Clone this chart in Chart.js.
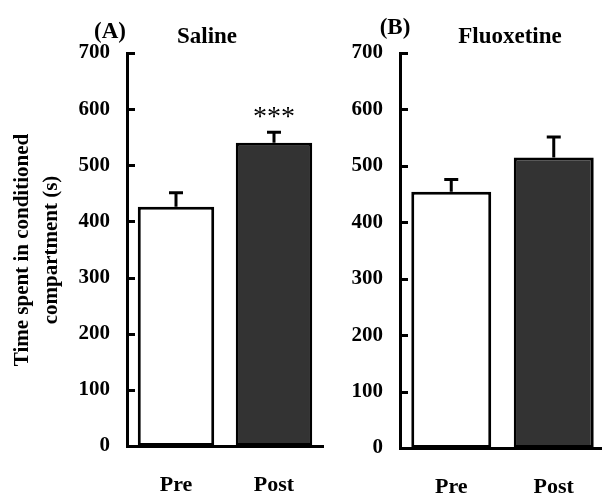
<!DOCTYPE html>
<html>
<head>
<meta charset="utf-8">
<script src="https://cdn.jsdelivr.net/npm/chart.js@4"></script>
<style>
    html, body { margin: 0; padding: 0; background: #fff; overflow: hidden; }
    #wrap { position: relative; width: 602px; height: 493px; overflow: hidden; }
    canvas { position: absolute; top: 0; }
    #chartA { left: 0; }
    #chartB { left: 330px; }
</style>
</head>
<body>
<div id="wrap">
    <canvas id="chartA" width="330" height="493"></canvas>
    <canvas id="chartB" width="290" height="493"></canvas>
</div>
<script>
// data
const categories = ['Pre', 'Post'];
const salineMeans = [426, 540];
const salineSEM = [25, 19];
const fluoxetineMeans = [454, 515];
const fluoxetineSEM = [22, 36];
const yTickValues = [0, 100, 200, 300, 400, 500, 600, 700];
const barColors = ['#ffffff', '#333333'];
const yAxisTitle = ['Time spent in conditioned', 'compartment (s)'];

const FONT = "'Liberation Serif', 'Times New Roman', serif";

function makePanel(canvasId, means, sem, panel) {
    const ctx = document.getElementById(canvasId).getContext('2d');

    // error bars, inward ticks, titles and stars
    const decor = {
        id: 'decor',
        afterDraw(chart) {
            const c = chart.ctx;
            const xs = chart.scales.x;
            const ys = chart.scales.y;
            const area = chart.chartArea;
            c.save();
            c.strokeStyle = '#000';
            c.fillStyle = '#000';
            c.lineWidth = 3;

            // inward tick marks
            yTickValues.forEach(v => {
                if (v === 0) return;
                const y = Math.round(ys.getPixelForValue(v)) + 0.5;
                c.beginPath();
                c.moveTo(area.left, y);
                c.lineTo(area.left + 8, y);
                c.stroke();
            });

            // upper error bars
            means.forEach((m, i) => {
                const x = xs.getPixelForValue(i);
                const yTop = ys.getPixelForValue(m);
                const yErr = ys.getPixelForValue(m + sem[i]);
                c.beginPath();
                c.moveTo(x, yTop);
                c.lineTo(x, yErr);
                c.moveTo(x - 7, yErr);
                c.lineTo(x + 7, yErr);
                c.stroke();
            });

            // significance stars
            if (panel.stars) {
                const i = panel.stars.index;
                const x = xs.getPixelForValue(i);
                const y = ys.getPixelForValue(means[i] + sem[i]);
                c.font = '28px ' + FONT;
                c.textAlign = 'center';
                c.textBaseline = 'alphabetic';
                c.fillText(panel.stars.text, x, y - 7);
            }

            // panel letter and title
            c.font = 'bold 23px ' + FONT;
            c.textAlign = 'center';
            c.textBaseline = 'middle';
            c.fillText(panel.letter.text, panel.letter.x, panel.letter.y);
            c.fillText(panel.title.text, panel.title.x, panel.title.y);

            // y axis title
            if (panel.yTitle) {
                c.font = 'bold 21px ' + FONT;
                panel.yTitle.x.forEach((lx, k) => {
                    c.save();
                    c.translate(lx, panel.yTitle.y);
                    c.rotate(-Math.PI / 2);
                    c.fillText(yAxisTitle[k], 0, 0);
                    c.restore();
                });
            }
            c.restore();
        }
    };

    return new Chart(ctx, {
        type: 'bar',
        data: {
            labels: categories,
            datasets: [{
                data: means,
                backgroundColor: barColors,
                borderColor: '#000',
                borderWidth: 3,
                borderSkipped: false,
                barPercentage: 0.78,
                categoryPercentage: 1.0
            }]
        },
        options: {
            responsive: false,
            animation: false,
            layout: { padding: { top: panel.top, right: panel.right, left: 0, bottom: 0 } },
            plugins: {
                legend: { display: false },
                tooltip: { enabled: false }
            },
            scales: {
                x: {
                    grid: { display: false, drawTicks: false },
                    border: { display: true, color: '#000', width: 3 },
                    ticks: {
                        color: '#000',
                        padding: 26,
                        font: { family: FONT, size: 22, weight: 'bold' }
                    },
                    afterFit: s => { s.height = panel.xHeight; }
                },
                y: {
                    min: 0,
                    max: 700,
                    grid: { display: false, drawTicks: false },
                    border: { display: true, color: '#000', width: 3 },
                    ticks: {
                        color: '#000',
                        padding: 17,
                        font: { family: FONT, size: 21, weight: 'bold' }
                    },
                    afterBuildTicks: s => { s.ticks = yTickValues.map(v => ({ value: v })); },
                    afterFit: s => { s.width = panel.yWidth; }
                }
            }
        },
        plugins: [decor]
    });
}

makePanel('chartA', salineMeans, salineSEM, {
    top: 53, right: 7, xHeight: 47, yWidth: 127,
    letter: { text: '(A)', x: 110, y: 32 },
    title: { text: 'Saline', x: 207, y: 37 },
    stars: { index: 1, text: '***' },
    yTitle: { x: [23, 52], y: 250 }
});

makePanel('chartB', fluoxetineMeans, fluoxetineSEM, {
    top: 53, right: 15, xHeight: 45, yWidth: 70,
    letter: { text: '(B)', x: 65, y: 28 },
    title: { text: 'Fluoxetine', x: 180, y: 37 }
});
</script>
</body>
</html>
